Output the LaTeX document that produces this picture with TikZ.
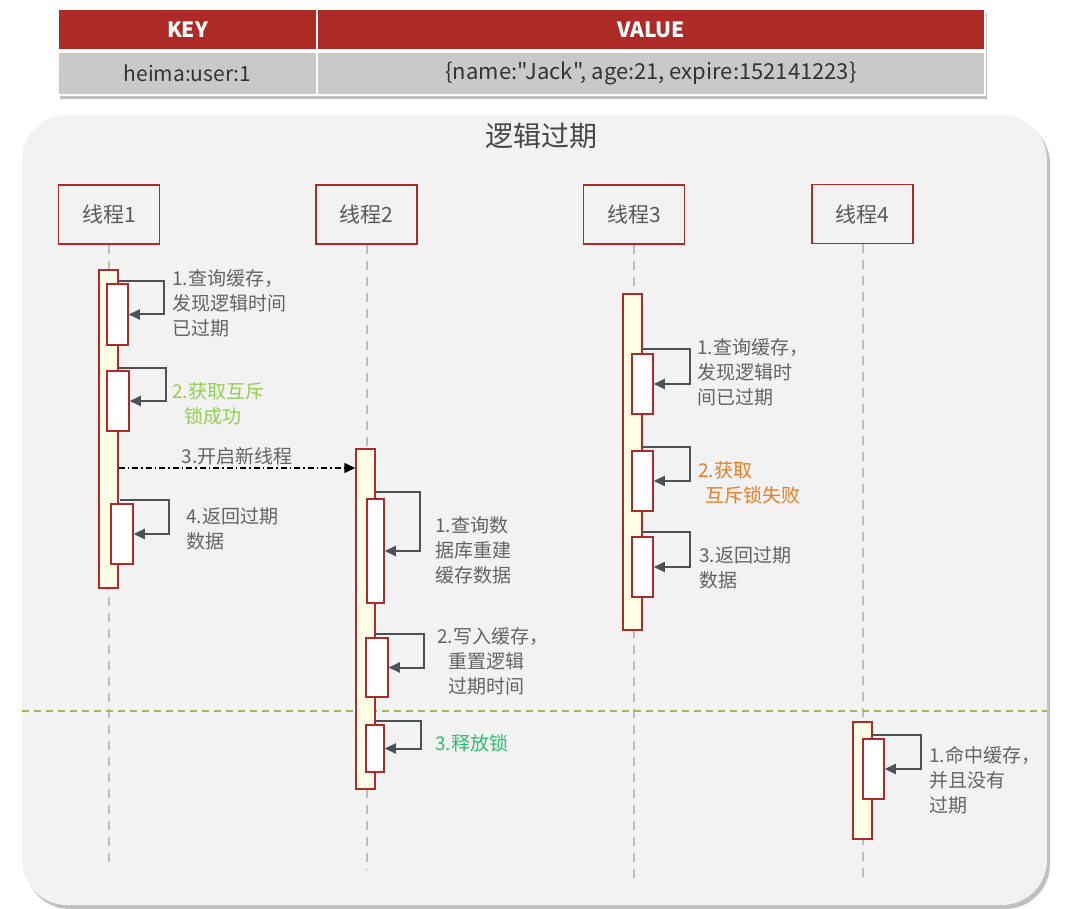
\documentclass[tikz,border=0pt]{standalone}
\usepackage{fontspec}
\setmainfont{Noto Sans CJK SC}[Ligatures=TeXOff]
\usetikzlibrary{arrows.meta,shadows}
\definecolor{hdrred}{HTML}{AE2A26}
\definecolor{rowgray}{HTML}{C9C9C9}
\definecolor{panelbg}{HTML}{F2F2F2}
\definecolor{boxred}{HTML}{B02A2A}
\definecolor{actfill}{HTML}{FFFFE6}
\definecolor{arrowgray}{HTML}{4A5254}
\definecolor{txtgray}{HTML}{636363}
\definecolor{okgreen}{HTML}{92D050}
\definecolor{relgreen}{HTML}{2DBE6C}
\definecolor{failorange}{HTML}{EE7B22}
\definecolor{sepgreen}{HTML}{9BBB59}
\definecolor{lifegray}{HTML}{BDBDBD}
\begin{document}
\begin{tikzpicture}[x=1pt,y=-1pt,
  cell/.style={draw=white, line width=2pt, inner sep=0, outer sep=0},
  hdr/.style={cell, fill=hdrred, text=white, minimum height=41pt, font=\fontsize{21}{24}\selectfont\bfseries},
  row/.style={cell, fill=rowgray, text=black!80, minimum height=43pt, font=\fontsize{21}{24}\selectfont},
  thread/.style={draw=boxred, line width=1.7pt, fill=panelbg, minimum width=101pt, minimum height=59pt, inner sep=0, font=\fontsize{21}{24}\selectfont, text=black!65},
  act/.style={draw=boxred, line width=1.5pt, fill=actfill, minimum width=19pt, inner sep=0},
  sub/.style={draw=boxred, line width=1.5pt, fill=white, inner sep=0},
  self/.style={draw=arrowgray, line width=2pt, -{Triangle[length=11pt,width=10pt]}},
  lbl/.style={anchor=west, align=left, font=\fontsize{19}{25}\selectfont, text=txtgray, inner sep=0},
  life/.style={draw=lifegray, line width=2pt, dash pattern=on 9pt off 7pt},
  call/.style={draw=black, line width=1.5pt, dash pattern=on 6pt off 3pt on 1.5pt off 3pt, -{Triangle[length=11pt,width=10pt]}}
]
\useasboundingbox (0,0) rectangle (1069,909);
% table
\path[fill=white, drop shadow={shadow xshift=2pt, shadow yshift=-4pt, opacity=.5}] (58,9) rectangle (985,95);
\node[hdr, minimum width=259pt] (hkey) at (187.5,29.5) {KEY};
\node[hdr, minimum width=668pt] (hval) at (651,29.5) {VALUE};
\node[row, minimum width=259pt] (rkey) at (187.5,73.5) {heima:user:1};
\node[row, minimum width=668pt, font=\fontsize{22}{24}\selectfont] (rval) at (651,73.5) {\{name:"Jack", age:21, expire:152141223\}};
% panel
\path[fill=panelbg, rounded corners=45pt, drop shadow={shadow xshift=3pt, shadow yshift=-4pt, opacity=.5}] (22,115) rectangle (1047,905);
\node[font=\fontsize{28}{32}\selectfont, text=black!72] (title) at (541,136) {逻辑过期};
% threads
\node[thread] (t1) at (109,214.5) {线程1};
\node[thread] (t2) at (366.5,214.5) {线程2};
\node[thread] (t3) at (634,214.5) {线程3};
\node[thread] (t4) at (862.5,214) {线程4};
\coordinate (e1) at (109,868);
\coordinate (e2) at (366.5,870);
\coordinate (e3) at (634,882);
\coordinate (e4) at (862.5,882);
\draw[life] (t1.south) -- (e1);
\draw[life] (t2.south) -- (e2);
\draw[life] (t3.south) -- (e3);
\draw[life] (t4.south) -- (e4);
% separator
\coordinate (sepL) at (22,711);
\coordinate (sepR) at (1047,711);
\draw[sepgreen, line width=1.5pt, dash pattern=on 7pt off 5pt] (sepL) -- (sepR);
% thread 1
\node[act, minimum height=318pt] (a1) at (108.5,429) {};
\node[sub, minimum width=21pt, minimum height=61pt] (b1a) at (117.5,314.5) {};
\node[sub, minimum width=22pt, minimum height=60pt] (b1b) at (118,401) {};
\node[sub, minimum width=22pt, minimum height=60pt] (b1c) at (122,534) {};
\draw[self] (a1.east |- 0,281) -- ++(45,0) |- (b1a.east);
\draw[self] (a1.east |- 0,368) -- ++(47,0) |- (b1b.east);
\draw[self] ([xshift=1pt]a1.east |- 0,500) -- ++(49,0) |- (b1c.east);
\node[lbl] (l1a) at (172,303) {1.查询缓存，\\发现逻辑时间\\已过期};
\node[lbl, text=okgreen] (l1b) at (172,403.5) {2.获取互斥\\\hspace*{12pt}锁成功};
\node[lbl] (l1d) at (186,528.5) {4.返回过期\\数据};
% thread 2
\node[act, minimum height=340pt] (a2) at (365.5,619) {};
\node[sub, minimum width=17pt, minimum height=104pt] (b2a) at (375.5,551) {};
\node[sub, minimum width=22pt, minimum height=59pt] (b2b) at (377,667.5) {};
\node[sub, minimum width=18pt, minimum height=47pt] (b2c) at (375,748.5) {};
\draw[call] (a1.east |- 0,468) -- node[above=-1pt, font=\fontsize{19}{22}\selectfont, text=txtgray] (l1c) {3.开启新线程} (a2.west |- 0,468);
\draw[self] (a2.east |- 0,492) -- ++(44,0) |- (b2a.east);
\draw[self] (a2.east |- 0,634) -- ++(48,0) |- (b2b.east);
\draw[self] (a2.east |- 0,721) -- ++(45,0) |- (b2c.east);
\node[lbl] (l2a) at (435,550) {1.查询数\\据库重建\\缓存数据};
\node[lbl] (l2b) at (437,661) {2.写入缓存，\\\hspace*{11pt}重置逻辑\\\hspace*{11pt}过期时间};
\node[lbl, text=relgreen] (l2c) at (435,743) {3.释放锁};
% thread 3
\node[act, minimum height=336pt] (a3) at (632.5,462) {};
\node[sub, minimum width=21pt, minimum height=60pt] (b3a) at (642.5,384) {};
\node[sub, minimum width=21pt, minimum height=60pt] (b3b) at (642.5,481) {};
\node[sub, minimum width=21pt, minimum height=60pt] (b3c) at (642.5,567) {};
\draw[self] (a3.east |- 0,349) -- ++(47,0) |- (b3a.east);
\draw[self] (a3.east |- 0,447) -- ++(47,0) |- (b3b.east);
\draw[self] (a3.east |- 0,532) -- ++(47,0) |- (b3c.east);
\node[lbl] (l3a) at (697,372) {1.查询缓存，\\发现逻辑时\\间已过期};
\node[lbl, text=failorange] (l3b) at (698,482.5) {2.获取\\\hspace*{7pt}互斥锁失败};
\node[lbl] (l3c) at (699,567.5) {3.返回过期\\数据};
% thread 4
\node[act, minimum height=117pt] (a4) at (862.5,780.5) {};
\node[sub, minimum width=21pt, minimum height=60pt] (b4a) at (873.5,769) {};
\draw[self] (a4.east |- 0,735) -- ++(48,0) |- (b4a.east);
\node[lbl] (l4a) at (929,780) {1.命中缓存，\\并且没有\\过期};
\end{tikzpicture}
\end{document}
